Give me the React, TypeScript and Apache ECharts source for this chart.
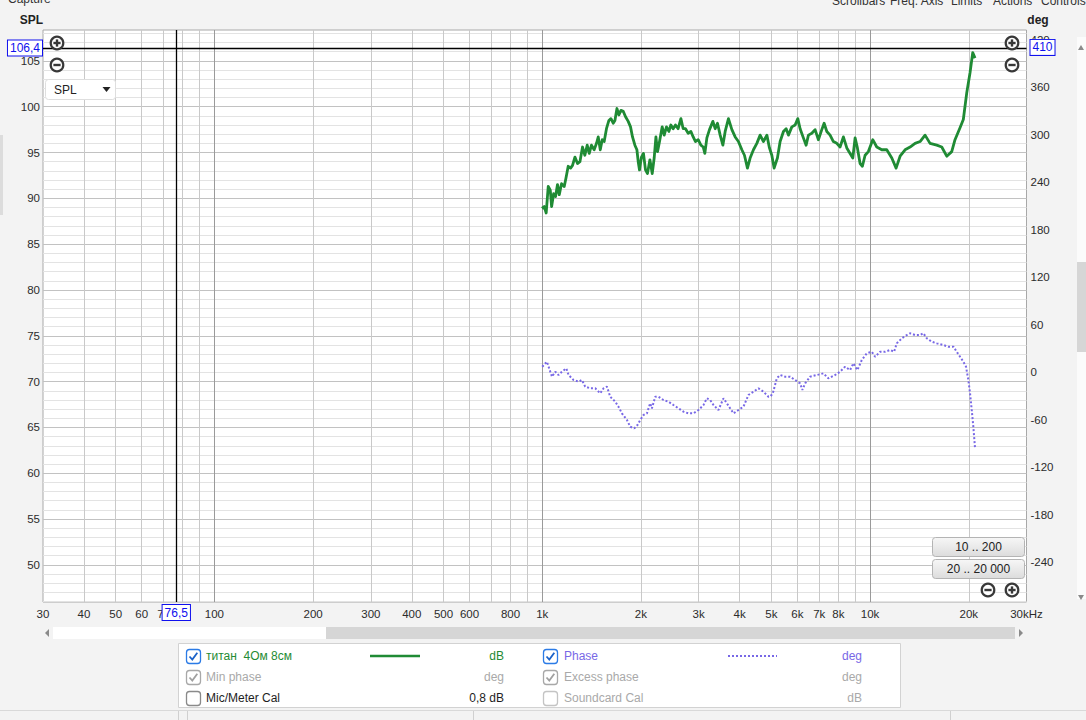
import React, { useEffect, useRef } from 'react';
import * as echarts from 'echarts';

// ---------- data ----------
const SPL_NAME = 'титан  4Ом 8см';
const PHASE_NAME = 'Phase';

const SPL_FREQ = [
  998, 1014, 1028, 1043, 1058, 1068, 1083, 1098, 1113, 1127, 1145, 1167, 1181, 1200, 1220, 1237, 1258,
  1281, 1303, 1327, 1349, 1371, 1391, 1413, 1440, 1464, 1482, 1503, 1524, 1545, 1570, 1597, 1620, 1646,
  1666, 1690, 1713, 1738, 1766, 1795, 1829, 1859, 1885, 1917, 1944, 1962, 1980, 2007, 2036, 2065, 2094,
  2130, 2165, 2195, 2222, 2247, 2279, 2322, 2355, 2393, 2434, 2468, 2508, 2549, 2597, 2648, 2691, 2735,
  2787, 2841, 2887, 2934, 2990, 3047, 3097, 3133, 3178, 3237, 3315, 3369, 3424, 3489, 3556, 3614, 3698,
  3788, 3877, 3966, 4063, 4138, 4226, 4306, 4408, 4514, 4620, 4728, 4844, 4932, 5015, 5096, 5216, 5316,
  5442, 5546, 5636, 5772, 5906, 6019, 6117, 6260, 6381, 6485, 6642, 6796, 6956, 7124, 7241, 7379, 7551,
  7727, 7915, 8100, 8290, 8491, 8690, 8857, 9001, 9148, 9322, 9474, 9656, 9881, 10190, 10481, 10856,
  11243, 11648, 12005, 12346, 12786, 13243, 13716, 14206, 14713, 15238, 15972, 16543, 17133, 17744,
  18158, 18808, 19249, 19714, 20177, 20563, 20898,
];
const SPL_DB = [
  88.9, 89.1, 88.4, 91.3, 90.9, 89.1, 90.5, 90.2, 91.5, 90.4, 91.6, 91.3, 92.2, 93.5, 93.3, 93.6, 94.5,
  93.8, 94.0, 95.6, 94.7, 95.8, 94.9, 95.8, 95.3, 96.0, 96.7, 95.3, 96.4, 96.2, 97.6, 98.5, 98.7, 98.2,
  98.5, 99.8, 99.1, 99.6, 99.5, 98.9, 98.4, 97.8, 96.7, 95.8, 95.3, 94.0, 93.1, 94.5, 94.9, 93.1, 92.7,
  94.2, 92.7, 94.4, 96.7, 95.1, 96.2, 97.8, 96.9, 97.8, 97.3, 98.0, 97.6, 98.0, 97.6, 98.7, 97.6, 97.6,
  97.1, 97.3, 96.7, 96.2, 96.4, 95.8, 95.6, 94.9, 96.6, 97.5, 98.4, 97.6, 98.2, 96.9, 95.8, 97.3, 98.7,
  97.5, 96.7, 96.2, 95.3, 94.7, 93.3, 94.4, 95.3, 96.0, 96.9, 96.2, 96.9, 95.5, 94.7, 93.3, 94.4, 96.2,
  97.3, 97.6, 96.9, 97.8, 98.0, 98.7, 97.6, 96.6, 95.8, 96.9, 97.1, 97.5, 96.4, 97.5, 98.2, 97.3, 96.9,
  96.2, 96.0, 95.6, 96.7, 95.5, 94.9, 94.4, 96.6, 95.5, 93.8, 93.5, 94.7, 95.1, 96.4, 95.6, 95.3,
  95.3, 94.4, 93.3, 94.6, 95.3, 95.6, 96.0, 96.2, 96.9, 96.0, 95.8, 95.6, 94.6, 95.1,
  96.4, 97.7, 98.6, 101.5, 103.7, 105.9, 105.3,
];

const PHASE_FREQ = [
  1000, 1033, 1058, 1071, 1096, 1121, 1148, 1184, 1203, 1246, 1290, 1321, 1352, 1401, 1451, 1503, 1538,
  1575, 1612, 1670, 1708, 1750, 1813, 1855, 1908, 1952, 1990, 2036, 2086, 2134, 2160, 2211, 2262, 2343,
  2427, 2513, 2603, 2697, 2793, 2893, 2996, 3103, 3178, 3252, 3329, 3447, 3571, 3657, 3743, 3831, 3966,
  4109, 4256, 4408, 4565, 4728, 4897, 4956, 5050, 5132, 5194, 5252, 5316, 5507, 5703, 5906, 6117, 6216,
  6336, 6564, 6879, 7204, 7461, 7823, 8100, 8391, 8690, 8895, 9148, 9434, 9770, 10120, 10360, 10730,
  11110, 11510, 11840, 12060, 12500, 12940, 13240, 13720, 14210, 14540, 14890, 15420, 15970, 16730,
  17330, 17950, 18380, 18810, 19250, 19620, 19940, 20180, 20420, 20650, 20900,
];
const PHASE_DEG = [
  6.7, 13, 0.4, -5.9, 0.4, -3.8, 0.4, 4.6, -3.8, -10.1, -12.2, -10.1, -18.5, -20.6, -20.6, -26.9, -20.6,
  -18.5, -31.2, -37.5, -43.8, -52.2, -60.6, -69.1, -71.2, -66.9, -60.6, -54.3, -52.2, -39.5, -45.9, -31.2, -31.2, -35.4,
  -37.5, -41.7, -45.9, -50.1, -52.2, -52.2, -48, -41.7, -33.2, -35.4, -41.7, -48, -33.2, -39.5, -45.9, -52.2, -48,
  -43.8, -29, -24.9, -20.6, -24.9, -31.2, -31.2, -27, -16, -8, -5.9, -3.8, -5.9, -5.9, -10.1, -14.3, -22.7,
  -14.3, -5.9, -3.8, -1.7, -8, -3.8, 0.4, 6.7, 2.5, 11, 2.5, 15.2, 23.6, 25.6, 19.3, 25.6,
  25.6, 27.8, 25.6, 36.2, 42.6, 46.7, 48.9, 46.7, 46.7, 48.9, 42.6, 38.3, 36.2, 34.1,
  32, 32, 25.6, 19.3, 13, 6.7, -10.1, -26.9, -48, -69.1, -96.4,
];

const FREQ_GRID = [40, 50, 60, 70, 80, 90, 100, 200, 300, 400, 500, 600, 700, 800, 900, 1000, 2000, 3000, 4000, 5000, 6000, 7000, 8000, 9000, 10000, 20000];
const FREQ_MAJOR = [100, 1000, 10000];
const FREQ_TICKS = [30, 40, 50, 60, 70, 100, 200, 300, 400, 500, 600, 800, 1000, 2000, 3000, 4000, 5000, 6000, 7000, 8000, 10000, 20000, 30000];
const FREQ_TICK_LABELS = ['30', '40', '50', '60', '70', '100', '200', '300', '400', '500', '600', '800', '1k', '2k', '3k', '4k', '5k', '6k', '7k', '8k', '10k', '20k', '30kHz'];
const DB_TICKS = [50, 55, 60, 65, 70, 75, 80, 85, 90, 95, 100, 105];
const DB_GRID = [46, 47, 48, 49, 50, 51, 52, 53, 54, 55, 56, 57, 58, 59, 60, 61, 62, 63, 64, 65, 66, 67, 68, 69, 70, 71, 72, 73, 74, 75, 76, 77, 78, 79, 80, 81, 82, 83, 84, 85, 86, 87, 88, 89, 90, 91, 92, 93, 94, 95, 96, 97, 98, 99, 100, 101, 102, 103, 104, 105, 106, 107, 108];
const DEG_TICKS = [-240, -180, -120, -60, 0, 60, 120, 180, 240, 300, 360, 420];
const DB_RANGE = [45.95, 108.37];
const DEG_RANGE = [-290.5, 432];
const FREQ_RANGE = [30, 30000];
const CROSS_FREQ = 76.5;
const CROSS_DB = 106.4;
const CROSS_DEG = 410;

const LEGEND_LEFT = [
  { label: SPL_NAME, unit: 'dB', state: 'on' },
  { label: 'Min phase', unit: 'deg', state: 'dim' },
  { label: 'Mic/Meter Cal', unit: '0,8 dB', state: 'off' },
];
const LEGEND_RIGHT = [
  { label: PHASE_NAME, unit: 'deg', state: 'on' },
  { label: 'Excess phase', unit: 'deg', state: 'dim' },
  { label: 'Soundcard Cal', unit: 'dB', state: 'dimoff' },
];
const MENU_ITEMS = ['Scrollbars', 'Freq. Axis', 'Limits', 'Actions', 'Controls'];
const RANGE_BUTTONS = ['10 .. 200', '20 .. 20 000'];

// ---------- styles ----------
const FONT = "'Liberation Sans', Arial, sans-serif";
const GREEN = '#1f8b34';
const PURPLE = '#7868e6';
const AXIS_TXT = '#2b2b2b';
const DIM = '#a9a9a9';

const comma = (v: number) => String(v).replace('.', ',');

function zoomIcon(cx: number, cy: number, plus: boolean) {
  const c = '#383838';
  const children: any[] = [
    { type: 'circle', z: 110, shape: { cx, cy, r: 6.3 }, style: { fill: '#fff', stroke: c, lineWidth: 2.2 } },
    { type: 'rect', z: 111, shape: { x: cx - 3.6, y: cy - 1.2, width: 7.2, height: 2.4 }, style: { fill: c } },
  ];
  if (plus) children.push({ type: 'rect', z: 111, shape: { x: cx - 1.2, y: cy - 3.6, width: 2.4, height: 7.2 }, style: { fill: c } });
  return children;
}

function checkbox(x: number, y: number, state: string) {
  const border = state === 'on' ? '#2b7be6' : state === 'dim' ? '#a8a8a8' : state === 'off' ? '#8a8a8a' : '#c4c4c4';
  const check = state === 'on' ? '#1a62c9' : '#a0a0a0';
  const children: any[] = [
    { type: 'rect', z: 110, shape: { x: x + 0.5, y: y + 0.5, width: 14, height: 14, r: 3 }, style: { fill: '#fff', stroke: border, lineWidth: 1.3 } },
  ];
  if (state === 'on' || state === 'dim') {
    children.push({ type: 'polyline', z: 111, shape: { points: [[x + 3.5, y + 7.5], [x + 6.3, y + 10.5], [x + 11.3, y + 3.8]] }, style: { fill: 'none', stroke: check, lineWidth: 1.8 } });
  }
  return children;
}

function legendRows(rows: any[], boxX: number, textX: number, unitRight: number, onColor: string) {
  const out: any[] = [];
  const ys = [656, 677, 698];
  rows.forEach((r, i) => {
    const y = ys[i];
    const col = r.state === 'on' ? onColor : r.state === 'off' ? '#1e1e1e' : DIM;
    out.push(...checkbox(boxX, y - 7, r.state));
    out.push({ type: 'text', z: 110, x: textX, y, style: { text: r.label, fill: col, font: `12px ${FONT}`, textVerticalAlign: 'middle' } });
    out.push({ type: 'text', z: 110, x: unitRight, y, style: { text: r.unit, fill: col, font: `12px ${FONT}`, textAlign: 'right', textVerticalAlign: 'middle' } });
  });
  return out;
}

function buildOption() {
  const spl = SPL_FREQ.map((f, i) => [f, SPL_DB[i]]);
  const phase = PHASE_FREQ.map((f, i) => [f, PHASE_DEG[i]]);
  const transparent = { color: 'rgba(0,0,0,0)' };
  const tickLabel = (text: string, position: string, distance: number) => ({
    show: true, position, formatter: text, color: AXIS_TXT, fontSize: 11.5, fontFamily: FONT, distance,
  });

  const gridItems: any[] = [];
  DB_GRID.forEach((v) => {
    const major = DB_TICKS.indexOf(v) >= 0;
    gridItems.push({ yAxis: v, lineStyle: { color: major ? '#c2c2c2' : '#e3e3e3', width: 1, type: 'solid' }, label: { show: false } });
  });
  FREQ_GRID.forEach((f) => {
    const major = FREQ_MAJOR.indexOf(f) >= 0;
    gridItems.push({ xAxis: f, lineStyle: { color: major ? '#9a9a9a' : '#c9c9c9', width: 1, type: 'solid' }, label: { show: false } });
  });
  FREQ_TICKS.forEach((f, i) => {
    gridItems.push({ xAxis: f, lineStyle: transparent, label: tickLabel(FREQ_TICK_LABELS[i], 'start', 6) });
  });
  DB_TICKS.forEach((v) => {
    gridItems.push({ yAxis: v, lineStyle: transparent, label: tickLabel(String(v), 'start', 3) });
  });
  const degItems = DEG_TICKS.map((d) => ({ yAxis: d, lineStyle: transparent, label: tickLabel(String(d), 'end', 4) }));

  const boxLabel = (text: string, position: string, distance: number) => ({
    show: true, position, formatter: text, color: '#1010ee', fontSize: 12, fontFamily: FONT, distance,
    backgroundColor: '#fff', borderColor: '#1010ee', borderWidth: 1, padding: [2, 2, 1, 2],
  });

  const mlBase = { symbol: ['none', 'none'], silent: true, animation: false, emphasis: { disabled: true } };

  const graphic: any[] = [
    // top texts
    { type: 'text', z: 100, x: 8, y: -1, style: { text: 'Capture', fill: '#333', font: `12px ${FONT}`, textVerticalAlign: 'middle' } },
    ...MENU_ITEMS.map((t, i) => ({ type: 'text', z: 100, x: [832, 890, 951, 993, 1041][i], y: 0.5, style: { text: t, fill: '#333', font: `12px ${FONT}`, textVerticalAlign: 'middle' } })),
    { type: 'text', z: 100, x: 31.5, y: 20, style: { text: 'SPL', fill: '#222', font: `bold 12px ${FONT}`, textAlign: 'center', textVerticalAlign: 'middle' } },
    { type: 'text', z: 100, x: 1038, y: 20, style: { text: 'deg', fill: '#222', font: `bold 12px ${FONT}`, textAlign: 'center', textVerticalAlign: 'middle' } },
    // zoom icons
    ...zoomIcon(57, 43, true), ...zoomIcon(57, 65, false),
    ...zoomIcon(1012, 43, true), ...zoomIcon(1012, 65, false),
    ...zoomIcon(988, 590, false), ...zoomIcon(1012, 590, true),
    // SPL dropdown
    { type: 'rect', z: 100, shape: { x: 45.5, y: 79.5, width: 70, height: 20, r: 3 }, style: { fill: '#fff', stroke: '#dedede', lineWidth: 1 } },
    { type: 'text', z: 101, x: 54, y: 89.5, style: { text: 'SPL', fill: '#222', font: `12px ${FONT}`, textVerticalAlign: 'middle' } },
    { type: 'polygon', z: 101, shape: { points: [[102.5, 87], [110.5, 87], [106.5, 92]] }, style: { fill: '#222' } },
    // range buttons
    ...RANGE_BUTTONS.flatMap((t, i) => {
      const y = 537 + i * 22;
      return [
        { type: 'rect', z: 100, shape: { x: 932.5, y: y + 0.5, width: 92, height: 19, r: 3 }, style: { fill: { type: 'linear', x: 0, y: 0, x2: 0, y2: 1, colorStops: [{ offset: 0, color: '#f7f7f7' }, { offset: 1, color: '#dcdcdc' }] }, stroke: '#b4b4b4', lineWidth: 1 } },
        { type: 'text', z: 101, x: 978.5, y: y + 10, style: { text: t, fill: '#222', font: `12px ${FONT}`, textAlign: 'center', textVerticalAlign: 'middle' } },
      ];
    }),
    // horizontal scrollbar
    { type: 'rect', z: 100, shape: { x: 53, y: 627, width: 962, height: 12 }, style: { fill: '#ffffff' } },
    { type: 'rect', z: 100, shape: { x: 326, y: 627, width: 689, height: 12 }, style: { fill: '#d6d6d6' } },
    { type: 'polygon', z: 100, shape: { points: [[49, 629], [49, 637], [45, 633]] }, style: { fill: '#8a8a8a' } },
    { type: 'polygon', z: 100, shape: { points: [[1019, 629], [1019, 637], [1023, 633]] }, style: { fill: '#8a8a8a' } },
    // vertical scrollbar
    { type: 'rect', z: 100, shape: { x: 1077, y: 37, width: 9, height: 562 }, style: { fill: '#fbfbfb' } },
    { type: 'rect', z: 100, shape: { x: 1077, y: 262, width: 9, height: 90 }, style: { fill: '#d6d6d6' } },
    { type: 'polygon', z: 100, shape: { points: [[1078, 50], [1084, 50], [1081, 45]] }, style: { fill: '#8a8a8a' } },
    { type: 'polygon', z: 100, shape: { points: [[1078, 595], [1084, 595], [1081, 600]] }, style: { fill: '#8a8a8a' } },
    { type: 'rect', z: 100, shape: { x: 0, y: 135, width: 3, height: 80 }, style: { fill: '#dcdcdc' } },
    // legend panel
    { type: 'rect', z: 99, shape: { x: 178.5, y: 643.5, width: 722, height: 64 }, style: { fill: '#fff', stroke: '#d2d2d2', lineWidth: 1 } },
    ...legendRows(LEGEND_LEFT, 186, 206, 504, GREEN),
    ...legendRows(LEGEND_RIGHT, 543, 564, 862, PURPLE),
    { type: 'line', z: 110, shape: { x1: 370, y1: 656, x2: 420, y2: 656 }, style: { stroke: GREEN, lineWidth: 2.6 } },
    { type: 'line', z: 110, shape: { x1: 728, y1: 656, x2: 777, y2: 656 }, style: { stroke: PURPLE, lineWidth: 2, lineDash: [2, 2] } },
    // status bar
    { type: 'line', z: 100, shape: { x1: 0, y1: 710.5, x2: 1086, y2: 710.5 }, style: { stroke: '#d9d9d9', lineWidth: 1 } },
    ...[178, 187, 473, 950].map((x) => ({ type: 'line', z: 100, shape: { x1: x + 0.5, y1: 711, x2: x + 0.5, y2: 720 }, style: { stroke: '#d0d0d0', lineWidth: 1 } })),
  ];

  return {
    animation: false,
    backgroundColor: 'transparent',
    textStyle: { fontFamily: FONT },
    grid: {
      left: 43, top: 30, width: 983.5, height: 572,
      show: true, backgroundColor: '#ffffff', borderColor: '#a8a8a8', borderWidth: 1,
      containLabel: false, outerBoundsMode: 'none',
    },
    xAxis: {
      type: 'log', logBase: 10, min: FREQ_RANGE[0], max: FREQ_RANGE[1],
      axisLine: { show: false }, axisTick: { show: false }, axisLabel: { show: false }, splitLine: { show: false },
    },
    yAxis: [
      { type: 'value', min: DB_RANGE[0], max: DB_RANGE[1], axisLine: { show: false }, axisTick: { show: false }, axisLabel: { show: false }, splitLine: { show: false } },
      { type: 'value', min: DEG_RANGE[0], max: DEG_RANGE[1], axisLine: { show: false }, axisTick: { show: false }, axisLabel: { show: false }, splitLine: { show: false } },
    ],
    series: [
      {
        name: 'grid', type: 'line', yAxisIndex: 0, data: [], z: 1, silent: true,
        markLine: { ...mlBase, z: 1, data: gridItems },
      },
      {
        name: 'degTicks', type: 'line', yAxisIndex: 1, data: [], z: 1, silent: true,
        markLine: { ...mlBase, z: 1, data: degItems },
      },
      {
        name: SPL_NAME, type: 'line', yAxisIndex: 0, data: spl, z: 3, showSymbol: false, silent: true,
        lineStyle: { color: GREEN, width: 2.8, join: 'round' },
      },
      {
        name: PHASE_NAME, type: 'line', yAxisIndex: 1, data: phase, z: 3, showSymbol: false, silent: true,
        lineStyle: { color: PURPLE, width: 2, type: [2, 2] },
      },
      {
        name: 'cursorDb', type: 'line', yAxisIndex: 0, data: [], z: 10, silent: true,
        markLine: {
          ...mlBase, z: 10,
          data: [
            { xAxis: CROSS_FREQ, lineStyle: { color: '#000', width: 1.3, type: 'solid' }, label: boxLabel(comma(CROSS_FREQ), 'start', 3) },
            { yAxis: CROSS_DB, lineStyle: { color: '#000', width: 1.3, type: 'solid' }, label: boxLabel(comma(CROSS_DB), 'start', 1) },
          ],
        },
      },
      {
        name: 'cursorDeg', type: 'line', yAxisIndex: 1, data: [], z: 10, silent: true,
        markLine: {
          ...mlBase, z: 10,
          data: [{ yAxis: CROSS_DEG, lineStyle: transparent, label: boxLabel(comma(CROSS_DEG), 'end', 4) }],
        },
      },
    ],
    graphic,
  };
}

export default function App() {
  const ref = useRef<HTMLDivElement>(null);
  useEffect(() => {
    if (!ref.current) return;
    const chart = echarts.init(ref.current, null, { renderer: 'svg' });
    chart.setOption(buildOption() as any);
    return () => chart.dispose();
  }, []);
  return (
    <div style={{ position: 'fixed', left: 0, top: 0, width: 1086, height: 720, background: '#f3f3f3', overflow: 'hidden' }}>
      <div ref={ref} style={{ width: 1086, height: 720 }} />
    </div>
  );
}
